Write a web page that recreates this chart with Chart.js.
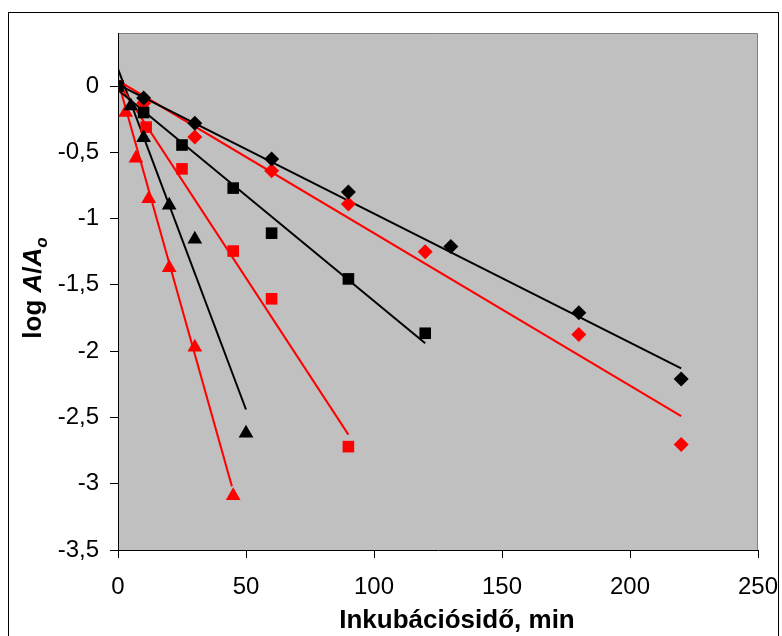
<!DOCTYPE html>
<html>
<head>
<meta charset="utf-8">
<script src="https://cdn.jsdelivr.net/npm/chart.js@4/dist/chart.umd.min.js"></script>
<style>
html,body{margin:0;padding:0;background:#fff;}
canvas{display:block;}
</style>
</head>
<body>
<canvas id="c" width="782" height="636"></canvas>
<script>
// ---- data ----
const bdX = [10, 30, 60, 90, 130, 180, 220];
const bdY = [-0.09, -0.28, -0.55, -0.80, -1.21, -1.71, -2.21];
const rdX = [10, 30, 60, 90, 120, 180, 220];
const rdY = [-0.13, -0.385, -0.64, -0.89, -1.25, -1.875, -2.705];
const bsX = [0, 10, 25, 45, 60, 90, 120];
const bsY = [0, -0.2, -0.445, -0.77, -1.11, -1.455, -1.865];
const rsX = [0, 11, 25, 45, 60, 90];
const rsY = [0, -0.31, -0.625, -1.245, -1.605, -2.72];
const btX = [5, 10, 20, 30, 50];
const btY = [-0.15, -0.39, -0.9, -1.155, -2.62];
const rtX = [3, 7, 12, 20, 30, 45];
const rtY = [-0.2, -0.545, -0.85, -1.37, -1.97, -3.09];

// trend line end points
const bdTrendX = [0, 220], bdTrendY = [0.01, -2.13];
const rdTrendX = [0, 220], rdTrendY = [0.04, -2.49];
const bsTrendX = [0, 120], bsTrendY = [-0.03, -1.94];
const rsTrendX = [0, 90],  rsTrendY = [0.03, -2.63];
const btTrendX = [0, 50],  btTrendY = [0.13, -2.44];
const rtTrendX = [0, 44.5], rtTrendY = [0.04, -3.02];

const xTitle = 'Inkubációsidő, min';
const FONT = '"Liberation Sans", Arial, sans-serif';

const pts = (xs, ys) => xs.map((x, i) => ({x: x, y: ys[i]}));
const BLACK = '#000000', RED = '#ff0000';

function markers(xs, ys, color, style, r, order) {
  return {type: 'scatter', data: pts(xs, ys), showLine: false, pointStyle: style,
    pointRadius: r, pointHoverRadius: r, backgroundColor: color, borderColor: color,
    borderWidth: 0, order: order};
}
function trend(xs, ys, color, order) {
  return {type: 'line', data: pts(xs, ys), showLine: true, pointRadius: 0,
    borderColor: color, borderWidth: 2, fill: false, order: order};
}

const datasets = [
  markers(bsX, bsY, BLACK, 'rect', 8.2, 0),
  markers(btX, btY, BLACK, 'triangle', 8.5, 1),
  markers(rsX, rsY, RED, 'rect', 8.2, 2),
  markers(bdX, bdY, BLACK, 'rectRot', 7.5, 3),
  markers(rdX, rdY, RED, 'rectRot', 7.5, 4),
  markers(rtX, rtY, RED, 'triangle', 8.5, 5),
  trend(bdTrendX, bdTrendY, BLACK, 6),
  trend(rdTrendX, rdTrendY, RED, 7),
  trend(bsTrendX, bsTrendY, BLACK, 8),
  trend(rsTrendX, rsTrendY, RED, 9),
  trend(btTrendX, btTrendY, BLACK, 10),
  trend(rtTrendX, rtTrendY, RED, 11)
];

const decorations = {
  id: 'decorations',
  beforeDraw(chart) {
    const ctx = chart.ctx, a = chart.chartArea;
    ctx.save();
    ctx.fillStyle = '#ffffff';
    ctx.fillRect(0, 0, chart.width, chart.height);
    ctx.fillStyle = '#c0c0c0';
    ctx.fillRect(a.left, a.top, a.right - a.left, a.bottom - a.top);
    ctx.strokeStyle = '#808080';
    ctx.lineWidth = 1;
    ctx.beginPath();
    ctx.moveTo(a.left, a.top + 0.5);
    ctx.lineTo(a.right - 0.5, a.top + 0.5);
    ctx.lineTo(a.right - 0.5, a.bottom);
    ctx.stroke();
    // outer frame
    ctx.strokeStyle = '#000000';
    ctx.strokeRect(8.5, 12.5, 770, 640);
    ctx.restore();
  },
  afterDraw(chart) {
    const ctx = chart.ctx;
    ctx.save();
    ctx.fillStyle = '#000';
    // x title
    ctx.font = 'bold 26px ' + FONT;
    ctx.textAlign = 'center';
    ctx.textBaseline = 'alphabetic';
    ctx.fillText(xTitle, 457, 628);
    // y title with italic A and subscript o
    ctx.translate(32, 288);
    ctx.rotate(-Math.PI / 2);
    const parts = [
      ['log ', 'bold 26px ' + FONT, 0],
      ['A', 'italic bold 26px ' + FONT, 0],
      ['/', 'bold 26px ' + FONT, 0],
      ['A', 'italic bold 26px ' + FONT, 0],
      ['o', 'italic bold 17px ' + FONT, 6]
    ];
    let total = 0;
    parts.forEach(p => { ctx.font = p[1]; total += ctx.measureText(p[0]).width; });
    let x = -total / 2;
    ctx.textAlign = 'left';
    ctx.textBaseline = 'alphabetic';
    parts.forEach(p => {
      ctx.font = p[1];
      ctx.fillText(p[0], x, 9 + p[2]);
      x += ctx.measureText(p[0]).width;
    });
    ctx.restore();
  }
};

const fmt = v => String(v).replace('.', ',');

new Chart(document.getElementById('c'), {
  data: {datasets: datasets},
  options: {
    responsive: false,
    animation: false,
    events: [],
    layout: {padding: {left: 0, top: 33, right: 24, bottom: 0}},
    plugins: {legend: {display: false}, tooltip: {enabled: false}},
    scales: {
      x: {
        type: 'linear', min: 0, max: 250,
        ticks: {stepSize: 50, color: '#000', font: {size: 24, family: FONT}, padding: 15, callback: fmt},
        grid: {drawOnChartArea: false, drawTicks: true, tickLength: 8, color: '#000'},
        border: {display: true, color: '#000', width: 1},
        afterFit(s) { s.height = 86; s.paddingLeft = 0; s.paddingRight = 0; }
      },
      y: {
        type: 'linear', min: -3.5, max: 0.4,
        ticks: {stepSize: 0.5, color: '#000', font: {size: 24, family: FONT}, padding: 11, callback: fmt},
        grid: {drawOnChartArea: false, drawTicks: true, tickLength: 8, color: '#000'},
        border: {display: true, color: '#000', width: 1},
        afterBuildTicks(s) {
          s.ticks = s.ticks.filter(t => Math.abs(t.value * 2 - Math.round(t.value * 2)) < 1e-9);
        },
        afterFit(s) { s.width = 118; s.paddingTop = 0; s.paddingBottom = 0; }
      }
    }
  },
  plugins: [decorations]
});
</script>
</body>
</html>
